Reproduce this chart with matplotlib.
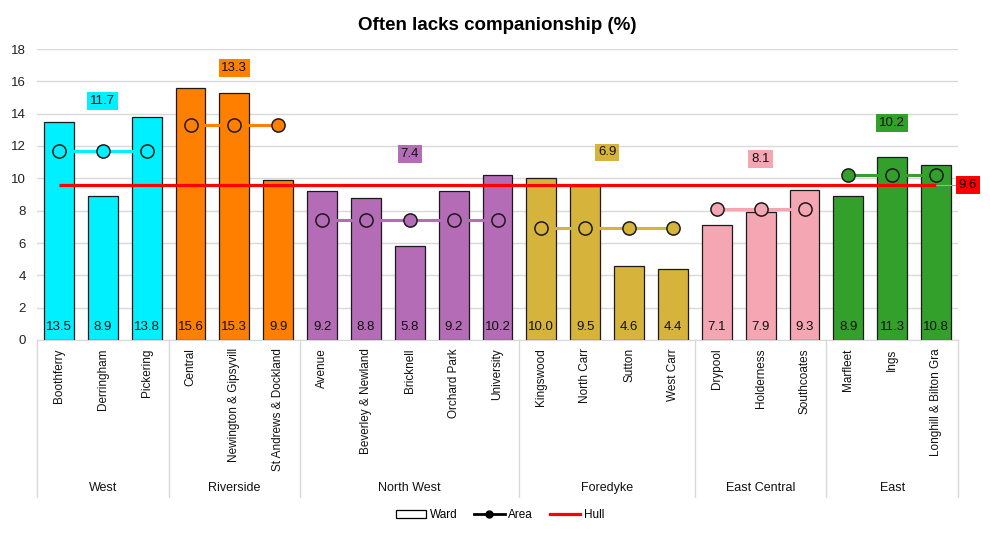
#%% Dependencies
import matplotlib
matplotlib.use("Agg")
import matplotlib.pyplot as plt
from matplotlib.lines import Line2D
from matplotlib.patches import Patch
import numpy as np

plt.rcParams["font.family"] = ["Liberation Sans", "DejaVu Sans"]

#%% Data
wards = [
    "Boothferry", "Derringham", "Pickering",
    "Central", "Newington & Gipsyvill", "St Andrews & Dockland",
    "Avenue", "Beverley & Newland", "Bricknell", "Orchard Park", "University",
    "Kingswood", "North Carr", "Sutton", "West Carr",
    "Drypool", "Holderness", "Southcoates",
    "Marfleet", "Ings", "Longhill & Bilton Gra",
]
ward_values = [
    13.5, 8.9, 13.8,
    15.6, 15.3, 9.9,
    9.2, 8.8, 5.8, 9.2, 10.2,
    10.0, 9.5, 4.6, 4.4,
    7.1, 7.9, 9.3,
    8.9, 11.3, 10.8,
]
areas = ["West", "Riverside", "North West", "Foredyke", "East Central", "East"]
area_sizes = [3, 3, 5, 4, 3, 3]
area_values = [11.7, 13.3, 7.4, 6.9, 8.1, 10.2]
hull_value = 9.6

area_colors = ["#00F0FF", "#FF8000", "#B36CB5", "#D6B43C", "#F4A7B3", "#33A02C"]
# height at which each area's value box sits
area_label_y = [14.8, 16.8, 11.5, 11.6, 11.2, 13.4]

#%% Plotting
fig = plt.figure(figsize=(9.9, 5.33), dpi=100)
ax = fig.add_axes([37 / 990, 1 - 340 / 533, 921 / 990, 291 / 533])

x = np.arange(len(wards))
group_idx = np.repeat(np.arange(len(areas)), area_sizes)
bar_colors = [area_colors[g] for g in group_idx]

ax.bar(x, ward_values, width=0.68, color=bar_colors, edgecolor="#1a1a1a",
       linewidth=0.9, zorder=2)
for xi, v in zip(x, ward_values):
    ax.text(xi, 0.8, f"{v:.1f}", ha="center", va="center", fontsize=9.5,
            color="#111111", zorder=5)

# Hull line
ax.plot([x[0], x[-1]], [hull_value, hull_value], color="#FF0000", lw=2.3,
        zorder=3, solid_capstyle="butt")
ax.plot([x[-1], x[-1] + 0.45], [hull_value, hull_value], color="#A6A6A6",
        lw=0.8, zorder=3, clip_on=False)
ax.text(x[-1] + 0.72, hull_value, f"{hull_value:.1f}", ha="center", va="center",
        fontsize=9.5, color="black", zorder=6, clip_on=False,
        bbox=dict(boxstyle="square,pad=0.22", fc="#FF0000", ec="none"))

# Area lines
start = 0
for a, n in enumerate(area_sizes):
    xs = x[start:start + n]
    ax.plot(xs, [area_values[a]] * n, color=area_colors[a], lw=2.2,
            marker="o", markersize=9.5, markerfacecolor=area_colors[a],
            markeredgecolor="#1a1a1a", markeredgewidth=1.1, zorder=4)
    cx = (start + start + n - 1) / 2
    ax.text(cx, area_label_y[a], f"{area_values[a]:.1f}", ha="center",
            va="center", fontsize=9.5, color="#111111", zorder=6,
            bbox=dict(boxstyle="square,pad=0.22", fc=area_colors[a], ec="none"))
    start += n

ax.set_xlim(-0.5, len(wards) - 0.5)
ax.set_ylim(0, 18)
ax.set_yticks(np.arange(0, 19, 2))
ax.yaxis.grid(True, color="#D9D9D9", lw=1)
ax.set_axisbelow(True)
for s in ["top", "right", "left"]:
    ax.spines[s].set_visible(False)
ax.spines["bottom"].set_color("#D9D9D9")
ax.tick_params(axis="y", length=0, labelsize=9.5, colors="#222222", pad=8)
ax.tick_params(axis="x", length=0, pad=6)
ax.set_xticks(x)
ax.set_xticklabels(wards, rotation=90, fontsize=8.5, va="top", color="#111111")

# Group separators and labels below the axis
trans = ax.get_xaxis_transform()
sep_bottom = -157 / 291
bounds = np.concatenate([[0], np.cumsum(area_sizes)]) - 0.5
for b in bounds:
    ax.plot([b, b], [0, sep_bottom], color="#D9D9D9", lw=1, transform=trans,
            clip_on=False)
for a, n in enumerate(area_sizes):
    cx = (bounds[a] + bounds[a + 1]) / 2
    ax.text(cx, -148 / 291, areas[a], transform=trans, ha="center",
            va="center", fontsize=9, color="#111111")

ax.set_title("Often lacks companionship (%)", fontsize=13.5, fontweight="bold",
             pad=14)

handles = [
    Patch(facecolor="white", edgecolor="black", linewidth=0.9),
    Line2D([0], [0], color="black", lw=2, marker="o", markersize=5),
    Line2D([0], [0], color="#FF0000", lw=2.3),
]
fig.legend(handles, ["Ward", "Area", "Hull"], loc="center",
           bbox_to_anchor=(500 / 990, 1 - 515 / 533), ncol=3, frameon=False,
           fontsize=8.5, handlelength=2.6, columnspacing=1.4, handletextpad=0.3)

fig.savefig("out.png", dpi=100)
